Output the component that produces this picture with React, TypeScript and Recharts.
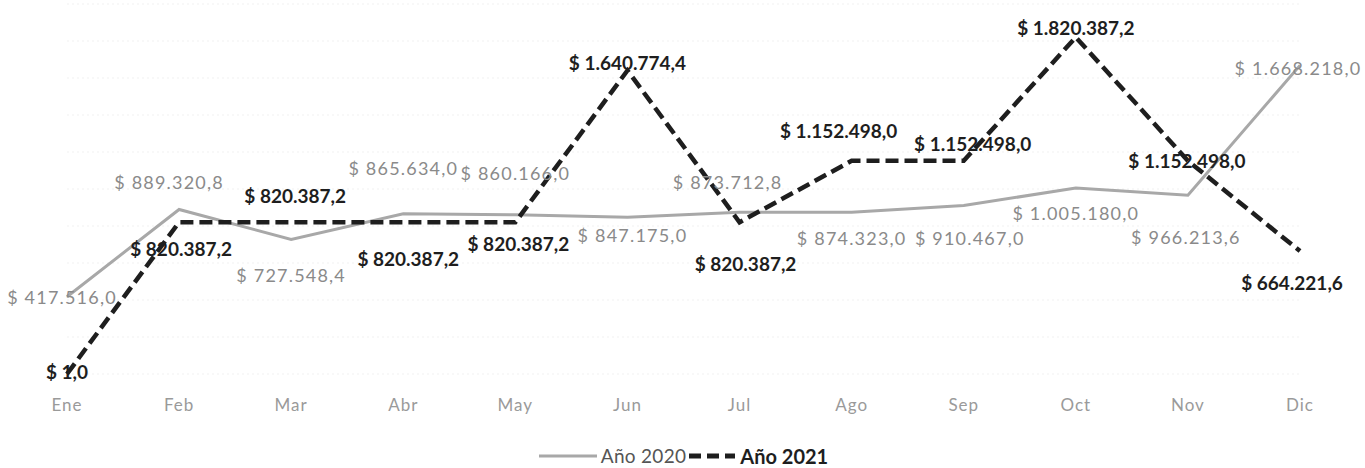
import React from "react";
import { LineChart, Line, XAxis, YAxis, CartesianGrid, LabelList, Legend } from "recharts";

const MONTHS = ["Ene", "Feb", "Mar", "Abr", "May", "Jun", "Jul", "Ago", "Sep", "Oct", "Nov", "Dic"];
const Y2020 = [417516.0, 889320.8, 727548.4, 865634.0, 860166.0, 847175.0, 873712.8, 874323.0, 910467.0, 1005180.0, 966213.6, 1668218.0];
const Y2021 = [1.0, 820387.2, 820387.2, 820387.2, 820387.2, 1640774.4, 820387.2, 1152498.0, 1152498.0, 1820387.2, 1152498.0, 664221.6];
const Y_TICKS = [0, 200000, 400000, 600000, 800000, 1000000, 1200000, 1400000, 1600000, 1800000, 2000000];
const SERIES_NAMES = ["Año 2020", "Año 2021"];

// label offsets relative to each point (dx, dy)
const OFF_2020: [number, number][] = [[-5, 0], [-10, -27], [0, 36], [0, -46], [0, -42], [5, 18], [-12, -30], [0, 26], [6, 32], [0, 25], [-2, 42], [-2, 3]];
const OFF_2021: [number, number][] = [[0, -2], [2, 26], [4, -27], [5, 36], [3, 21], [0, -8], [6, 41], [-13, -30], [9, -17], [0, -10], [-1, 0], [-8, 31]];

const data = MONTHS.map((m, i) => ({ month: m, a2020: Y2020[i], a2021: Y2021[i] }));

const fmt = (v: number) => {
  const [int, dec] = v.toFixed(1).split(".");
  return "$ " + int.replace(/\B(?=(\d{3})+(?!\d))/g, ".") + "," + dec;
};

const FONT = "Lato, 'Liberation Sans', sans-serif";

const makeLabel = (offs: [number, number][], bold: boolean) => (props: any) => {
  const { x, y, value, index } = props;
  const [dx, dy] = offs[index] || [0, 0];
  return (
    <text
      x={x + dx}
      y={y + dy}
      textAnchor="middle"
      dominantBaseline="central"
      fontFamily={FONT}
      fontSize={bold ? 19 : 18}
      fontWeight={bold ? 700 : 400}
      letterSpacing={bold ? 0 : 1.2}
      fill={bold ? "#1e1e1e" : "#8a8a8a"}
    >
      {fmt(Number(value))}
    </text>
  );
};

const LegendContent = () => (
  <div style={{ display: "flex", justifyContent: "center", alignItems: "center", height: 22, fontFamily: FONT, whiteSpace: "nowrap" }}>
    <svg width={62} height={22}>
      <line x1={2} y1={11} x2={60} y2={11} stroke="#a8a8a8" strokeWidth={3} />
    </svg>
    <span style={{ fontSize: 19, lineHeight: "22px", color: "#555", marginLeft: 2, letterSpacing: 0.3 }}>{SERIES_NAMES[0]}</span>
    <svg width={50} height={22}>
      <line x1={3} y1={11} x2={49} y2={11} stroke="#1e1e1e" strokeWidth={5} strokeDasharray="12 6" />
    </svg>
    <span style={{ fontSize: 20, lineHeight: "22px", color: "#1e1e1e", fontWeight: 700, marginLeft: 4 }}>{SERIES_NAMES[1]}</span>
  </div>
);

export default function App() {
  return (
    <div style={{ position: "absolute", left: 0, top: 0, width: 1365, height: 468, background: "#fff" }}>
      <LineChart width={1365} height={468} data={data} margin={{ top: 4, right: 65, left: 67, bottom: 42 }}>
        <CartesianGrid vertical={false} stroke="#f1f1f1" strokeDasharray="2 3" />
        <XAxis
          dataKey="month"
          axisLine={false}
          tickLine={false}
          tickSize={0}
          tickMargin={25}
          height={30}
          padding={{ left: 0, right: 0 }}
          tick={{ fill: "#9a9a9a", fontSize: 17, fontFamily: FONT, letterSpacing: 1 }}
          interval={0}
        />
        <YAxis hide domain={[0, 2000000]} ticks={Y_TICKS} />
        <Legend verticalAlign="bottom" content={<LegendContent />} wrapperStyle={{ top: 445, left: 0, width: 1365, height: 22 }} />
        <Line
          type="linear"
          dataKey="a2020"
          name={SERIES_NAMES[0]}
          stroke="#a8a8a8"
          strokeWidth={3}
          dot={false}
          activeDot={false}
          isAnimationActive={false}
        >
          <LabelList dataKey="a2020" content={makeLabel(OFF_2020, false)} />
        </Line>
        <Line
          type="linear"
          dataKey="a2021"
          name={SERIES_NAMES[1]}
          stroke="#1e1e1e"
          strokeWidth={4.5}
          strokeDasharray="13 6"
          dot={false}
          activeDot={false}
          isAnimationActive={false}
        >
          <LabelList dataKey="a2021" content={makeLabel(OFF_2021, true)} />
        </Line>
      </LineChart>
    </div>
  );
}
